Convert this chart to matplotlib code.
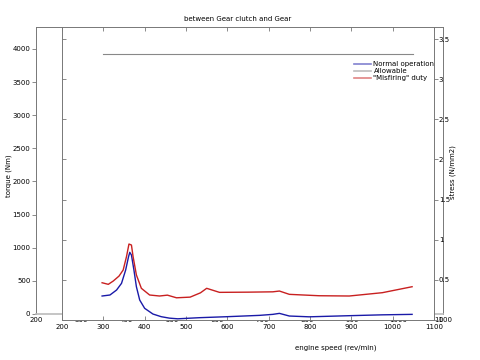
"""Torque / stress between gear clutch and gear vs engine speed."""
import matplotlib
import numpy as np

matplotlib.use('Agg')
import matplotlib.pyplot as plt

plt.rcParams['font.family'] = 'DejaVu Sans'

# engine speed (rev/min) and torque (Nm)
rpm_normal = [297, 316, 332, 344, 354, 361, 364, 368, 374, 380, 388, 400, 420,
              440, 460, 480, 533, 600, 678, 710, 726, 750, 798, 895, 975, 1047]
trq_normal = [272, 287, 362, 463, 664, 865, 931, 890, 664, 412, 211, 86, 0,
              -40, -62, -72, -55, -40, -20, -5, 10, -30, -42, -25, -12, -5]

rpm_misfire = [297, 312, 324, 338, 348, 356, 362, 368, 372, 380, 392, 412, 436,
               455, 477, 510, 535, 550, 581, 650, 710, 726, 750, 822, 895, 975, 1047]
trq_misfire = [472, 448, 498, 573, 664, 865, 1056, 1041, 865, 589, 388, 287, 272,
               285, 245, 255, 320, 388, 327, 330, 335, 347, 297, 276, 272, 322, 412]

rpm_allow = [300, 1050]
trq_allow = [3920, 3920]

x_ticks = list(range(200, 1101, 100))
torque_ticks = list(range(0, 4001, 500))
stress_ticks = [0, 0.5, 1, 1.5, 2, 2.5, 3, 3.5]
stress_labels = ['0', '0.5', '1', '1.5', '2', '2.5', '3', '3.5']

W, H = 480, 360
fig = plt.figure(figsize=(4.8, 3.6), dpi=100)
FS = 5
spine_c = '#777777'

# outer (torque) axes
ax_out = fig.add_axes([36 / W, 1 - 314 / H, (443 - 36) / W, (314 - 27) / H])
ax_out.set_xlim(200, 1100)
ax_out.set_ylim(0, 4330)
ax_out.set_xticks(x_ticks)
ax_out.set_yticks(torque_ticks)
ax_out.tick_params(labelsize=FS, length=3, width=0.6, color=spine_c, pad=1)
ax_out.tick_params(axis='x', length=0, pad=2)
for s in ax_out.spines.values():
    s.set_color(spine_c)
    s.set_linewidth(0.7)
ax_out.spines['bottom'].set_color('#bbbbbb')
ax_out.spines['bottom'].set_linewidth(1.2)

# inner (stress) axes on top, white background
ax_in = fig.add_axes([62 / W, 1 - 320 / H, (434 - 62) / W, (320 - 27) / H])
ax_in.set_facecolor('white')
ax_in.set_xlim(200, 1100)
ax_in.set_ylim(0, 3.65)
ax_in.set_xticks(x_ticks)
ax_in.set_yticks(stress_ticks)
ax_in.tick_params(axis='x', direction='in', top=True, length=3, width=0.6,
                  color=spine_c, labelsize=FS, pad=3)
ax_in.tick_params(axis='y', direction='in', left=True, right=False,
                  labelleft=False, length=3, width=0.6, color=spine_c)
for s in ax_in.spines.values():
    s.set_color(spine_c)
    s.set_linewidth(0.7)

ax_r = ax_in.twinx()
ax_r.set_ylim(0, 3.65)
ax_r.set_yticks(stress_ticks)
ax_r.set_yticklabels(stress_labels)
ax_r.tick_params(axis='y', direction='out', length=3, width=0.6,
                 color=spine_c, labelsize=FS, pad=0.5)
for s in ax_r.spines.values():
    s.set_visible(False)

# data axes: inner x scale, torque y scale
ax_d = fig.add_axes(ax_in.get_position())
ax_d.set_xlim(200, 1100)
ax_d.set_ylim(-90, 4330)
ax_d.axis('off')
ax_d.plot(rpm_normal, trq_normal, color='#1a1aa8', lw=1.0, label='Normal operation')
ax_d.plot(rpm_allow, trq_allow, color='#888888', lw=0.8, label='Allowable')
ax_d.plot(rpm_misfire, trq_misfire, color='#c82020', lw=1.0, label='"Misfiring" duty')

handles = [plt.Line2D([], [], color=c, lw=1.2, alpha=0.55)
           for c in ('#1a1aa8', '#888888', '#c82020')]
fig.legend(handles, ['Normal operation', 'Allowable', '"Misfiring" duty'],
           loc='upper left', bbox_to_anchor=(354 / W, 1 - 61 / H),
           frameon=False, fontsize=FS, handlelength=2.4, handletextpad=0.4,
           labelspacing=0.15, borderaxespad=0, borderpad=0)

fig.text(238 / W, 1 - 19 / H, 'between Gear clutch and Gear', fontsize=FS,
         ha='center', va='center')
fig.text(336 / W, 1 - 348 / H, 'engine speed (rev/min)', fontsize=FS,
         ha='center', va='center')
fig.text(9 / W, 1 - 176 / H, 'torque (Nm)', fontsize=FS, rotation=90,
         ha='center', va='center')
fig.text(453 / W, 1 - 172 / H, 'stress (N/mm2)', fontsize=FS, rotation=90,
         ha='center', va='center')

fig.savefig('out.png', dpi=100)
plt.close(fig)
